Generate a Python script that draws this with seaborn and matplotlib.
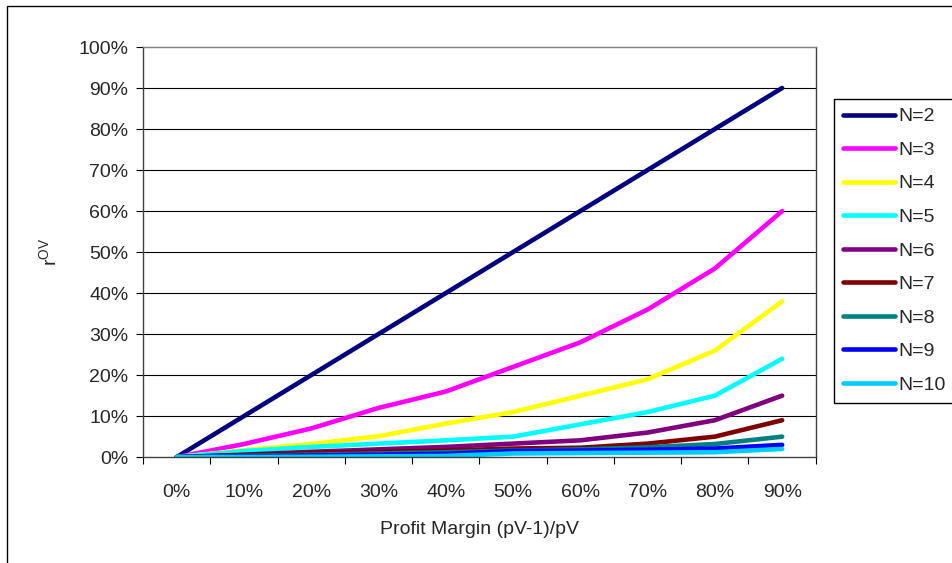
import pandas as pd
import matplotlib
matplotlib.use("Agg")
import matplotlib.pyplot as plt
import matplotlib.patches as patches
import seaborn as sns

# ------------------------------------------------------------
# Data (values in %)
# ------------------------------------------------------------
margins = ["0%", "10%", "20%", "30%", "40%", "50%", "60%", "70%", "80%", "90%"]

n2 = [0, 10, 20, 30, 40, 50, 60, 70, 80, 90]
n3 = [0, 3.2, 7, 12, 16, 22, 28, 36, 46, 60]
n4 = [0, 1.7, 3.2, 5.1, 8.2, 11, 15, 19, 26, 38]
n5 = [0, 1.5, 2.5, 3.3, 4.1, 5, 8, 11, 15, 24]
n6 = [0, 0.6, 1.3, 1.9, 2.5, 3.3, 4.1, 6, 9, 15]
n7 = [0, 0.5, 1.1, 1.3, 1.6, 2.1, 2.3, 3.3, 5, 9]
n8 = [0, 0.3, 0.6, 0.9, 1.2, 1.6, 1.9, 2.4, 3.2, 5]
n9 = [0, 0.2, 0.4, 0.6, 0.8, 1.5, 1.6, 1.8, 2.1, 3]
n10 = [0, 0.05, 0.1, 0.2, 0.3, 0.9, 1.0, 1.1, 1.2, 2]

series = {
    "N=2": n2, "N=3": n3, "N=4": n4, "N=5": n5, "N=6": n6,
    "N=7": n7, "N=8": n8, "N=9": n9, "N=10": n10,
}

colors = {
    "N=2": "#000080", "N=3": "#FF00FF", "N=4": "#FFFF00",
    "N=5": "#00FFFF", "N=6": "#800080", "N=7": "#800000",
    "N=8": "#008080", "N=9": "#0000FF", "N=10": "#00CCFF",
}

# long-form table for seaborn
rows = []
for name, vals in series.items():
    for i, v in enumerate(vals):
        rows.append({"pos": i, "value": v, "N": name})
df = pd.DataFrame(rows)

# ------------------------------------------------------------
# Plot
# ------------------------------------------------------------
sns.set_style("white")
plt.rcParams["font.family"] = ["Liberation Sans", "DejaVu Sans"]
FS = 14

fig = plt.figure(figsize=(9.53, 5.63), dpi=100)
ax = fig.add_axes([0.150, 0.188, 0.706, 0.7285])

# horizontal gridlines
for g in range(10, 100, 10):
    ax.axhline(g, color="black", lw=0.8, zorder=0)

sns.lineplot(
    data=df, x="pos", y="value", hue="N", palette=colors,
    hue_order=list(series.keys()), linewidth=3.3, ax=ax,
    legend=True, sort=False,
)

ax.set_xlim(-0.5, 9.5)
ax.set_ylim(0, 100)

# y ticks
ax.set_yticks(range(0, 101, 10))
ax.set_yticklabels([f"{t}%" for t in range(0, 101, 10)], fontsize=FS)
ax.tick_params(axis="y", direction="out", length=5, width=0.8, color="black", pad=5.5, left=True)

# x: labels at category centres, tick marks at boundaries
ax.set_xticks(range(10))
ax.set_xticklabels(margins, fontsize=FS)
ax.set_xticks([i - 0.5 for i in range(11)], minor=True)
ax.tick_params(axis="x", which="major", length=0, pad=19)
ax.tick_params(axis="x", which="minor", direction="out", length=5, width=0.8,
               color="black", bottom=True)

for side in ["left", "bottom", "right"]:
    ax.spines[side].set_color("#404040")
    ax.spines[side].set_linewidth(1)
ax.spines["top"].set_color("#808080")
ax.spines["top"].set_linewidth(1)

ax.set_xlabel("Profit Margin (pV-1)/pV", fontsize=FS, labelpad=15)
ax.set_ylabel(r"$\mathregular{r^{OV}}$", fontsize=FS)
ax.yaxis.set_label_coords(-0.123, 0.5)

# legend box on the right
handles, labels = ax.get_legend_handles_labels()
ax.legend_.remove()
leg = fig.legend(
    handles, labels, loc="upper left",
    bbox_to_anchor=(834 / 953, 1 - 99 / 563),
    fontsize=FS, frameon=True, fancybox=False, framealpha=1,
    edgecolor="black", handlelength=2.7, handletextpad=0.15,
    labelspacing=0.82, borderpad=0.45, borderaxespad=0,
)
leg.get_frame().set_linewidth(1)
for line in leg.get_lines():
    line.set_linewidth(3.3)

# outer chart border
fig.patches.append(patches.Rectangle(
    (7 / 953, -0.02), 1.0, 1 - 6 / 563 + 0.02,
    transform=fig.transFigure, fill=False, edgecolor="black", lw=1,
))

fig.savefig("out.png", dpi=100)
